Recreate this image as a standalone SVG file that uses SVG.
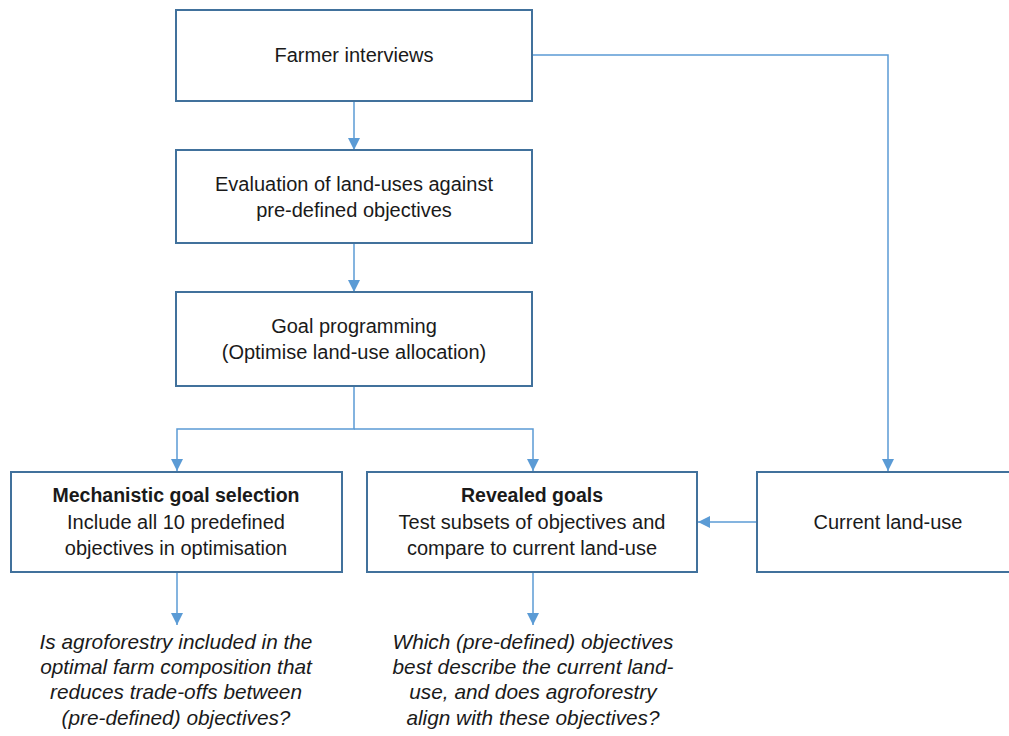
<svg xmlns="http://www.w3.org/2000/svg" width="1009" height="736" viewBox="0 0 1009 736">
<style>
.box{fill:#ffffff;stroke:#41719C;stroke-width:2}
.con{fill:none;stroke:#5B9BD5;stroke-width:1.5}
.t{font-family:"Liberation Sans",Arial,sans-serif;font-size:20px;fill:#1a1a1a;text-anchor:middle}
.b{font-weight:bold;font-size:19.5px}
.q{font-family:"Liberation Sans",Arial,sans-serif;font-size:20.8px;font-style:italic;fill:#1a1a1a;text-anchor:middle}
</style>
<defs>
<marker id="arr" viewBox="0 0 12 12" refX="12" refY="6" markerWidth="12" markerHeight="12" markerUnits="userSpaceOnUse" orient="auto">
<path d="M0,0 L12,6 L0,12 Z" fill="#5B9BD5"/>
</marker>
</defs>
<rect width="1009" height="736" fill="#ffffff"/>
<g id="connectors">
<line class="con" x1="354" y1="101" x2="354" y2="150" marker-end="url(#arr)"/>
<line class="con" x1="354" y1="243" x2="354" y2="292" marker-end="url(#arr)"/>
<polyline class="con" points="354,386 354,429 177,429 177,471" marker-end="url(#arr)"/>
<polyline class="con" points="354,429 533,429 533,471" marker-end="url(#arr)"/>
<polyline class="con" points="532,55 888,55 888,471" marker-end="url(#arr)"/>
<line class="con" x1="756" y1="522" x2="698" y2="522" marker-end="url(#arr)"/>
<line class="con" x1="177" y1="572" x2="177" y2="625" marker-end="url(#arr)"/>
<line class="con" x1="533" y1="572" x2="533" y2="625" marker-end="url(#arr)"/>
</g>
<g id="farmer-interviews">
<rect class="box" x="176" y="10" width="356" height="91"/>
<text class="t" x="354" y="62">Farmer interviews</text>
</g>
<g id="evaluation">
<rect class="box" x="176" y="150" width="356" height="93"/>
<text class="t" x="354" y="191">Evaluation of land-uses against</text>
<text class="t" x="354" y="217">pre-defined objectives</text>
</g>
<g id="goal-programming">
<rect class="box" x="176" y="292" width="356" height="94"/>
<text class="t" x="354" y="333">Goal programming</text>
<text class="t" x="354" y="359">(Optimise land-use allocation)</text>
</g>
<g id="mechanistic">
<rect class="box" x="11" y="472" width="331" height="100"/>
<text class="t b" x="176" y="502">Mechanistic goal selection</text>
<text class="t" x="176" y="529">Include all 10 predefined</text>
<text class="t" x="176" y="555">objectives in optimisation</text>
</g>
<g id="revealed">
<rect class="box" x="367" y="472" width="330" height="100"/>
<text class="t b" x="532" y="502">Revealed goals</text>
<text class="t" x="532" y="529">Test subsets of objectives and</text>
<text class="t" x="532" y="555">compare to current land-use</text>
</g>
<g id="current-land-use">
<rect class="box" x="757" y="472" width="262" height="100"/>
<text class="t" x="888" y="529">Current land-use</text>
</g>
<g id="question-1">
<text class="q" x="176" y="649">Is agroforestry included in the</text>
<text class="q" x="176" y="674">optimal farm composition that</text>
<text class="q" x="176" y="699">reduces trade-offs between</text>
<text class="q" x="176" y="725">(pre-defined) objectives?</text>
</g>
<g id="question-2">
<text class="q" x="533" y="649">Which (pre-defined) objectives</text>
<text class="q" x="533" y="674">best describe the current land-</text>
<text class="q" x="533" y="699">use, and does agroforestry</text>
<text class="q" x="533" y="725">align with these objectives?</text>
</g>
</svg>
